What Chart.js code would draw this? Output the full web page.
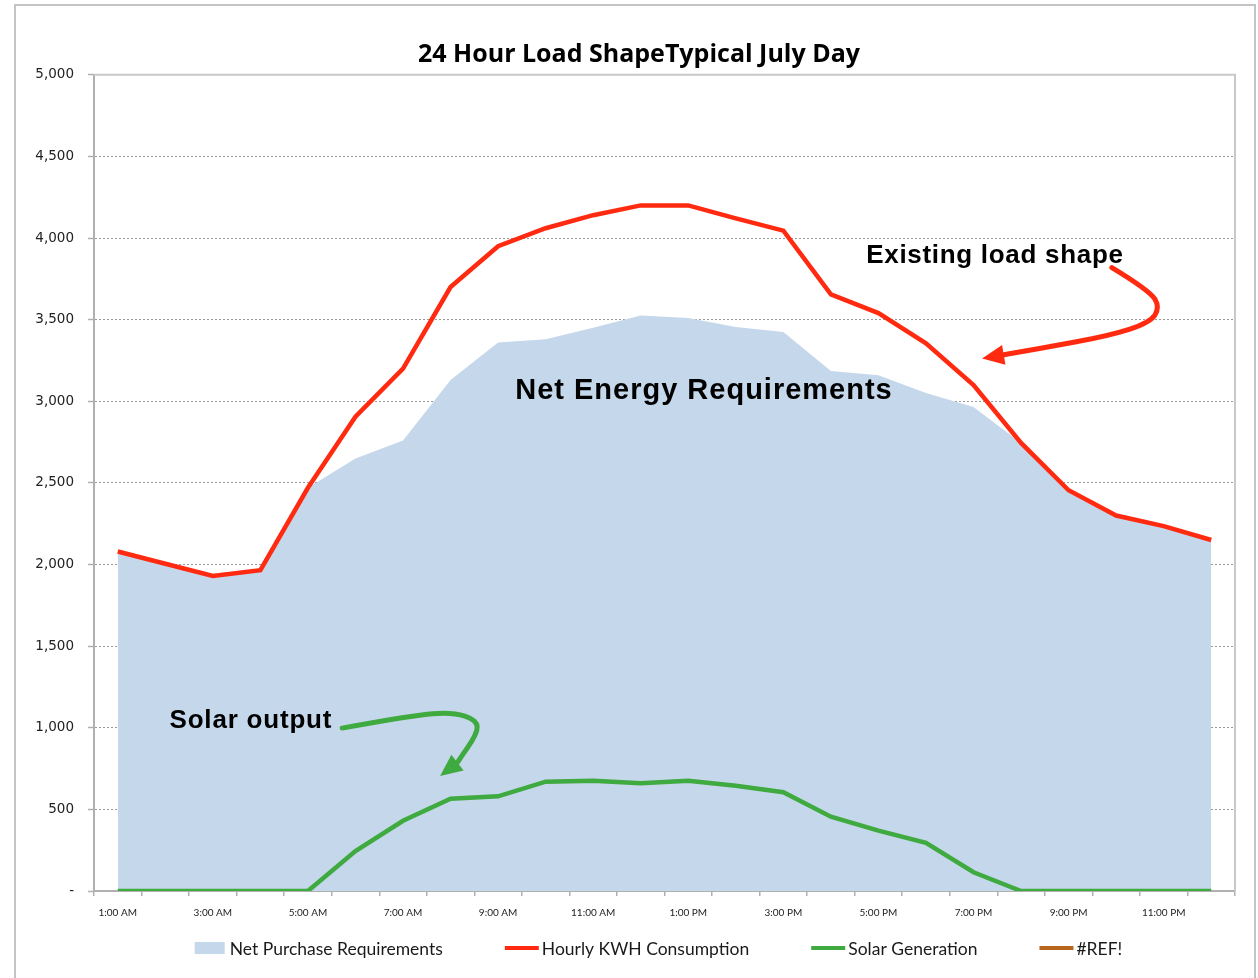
<!DOCTYPE html>
<html>
<head>
<meta charset="utf-8">
<title>24 Hour Load Shape</title>
<script src="https://cdn.jsdelivr.net/npm/chart.js@4.4.0/dist/chart.umd.min.js"></script>
<style>
  html, body { margin: 0; padding: 0; background: #fff; }
</style>
</head>
<body>
<canvas id="chart" width="1258" height="978"></canvas>
<script>
/* ===== Data ===== */
const hours = [
  '1:00 AM', '2:00 AM', '3:00 AM', '4:00 AM', '5:00 AM', '6:00 AM',
  '7:00 AM', '8:00 AM', '9:00 AM', '10:00 AM', '11:00 AM', '12:00 PM',
  '1:00 PM', '2:00 PM', '3:00 PM', '4:00 PM', '5:00 PM', '6:00 PM',
  '7:00 PM', '8:00 PM', '9:00 PM', '10:00 PM', '11:00 PM', '12:00 AM'
];
const netPurchase = [2080, 2005, 1930, 1965, 2470, 2650, 2760, 3130, 3360, 3380, 3450, 3525,
                     3510, 3455, 3425, 3185, 3160, 3050, 2965, 2745, 2455, 2300, 2235, 2150];
const hourlyKwh = [2080, 2005, 1930, 1965, 2470, 2905, 3200, 3700, 3950, 4060, 4140, 4200,
                   4200, 4120, 4045, 3655, 3540, 3355, 3100, 2745, 2455, 2300, 2235, 2150];
const solarGen = [0, 0, 0, 0, 0, 245, 430, 565, 580, 670, 675, 660,
                  675, 645, 605, 455, 370, 295, 115, 0, 0, 0, 0, 0];
const refSeries = [];

const seriesNames = ['Net Purchase Requirements', 'Hourly KWH Consumption', 'Solar Generation', '#REF!'];

/* ===== Notes drawn on the plot (x = hour index, y = kWh) ===== */
const notes = [
  { text: 'Net Energy Requirements', x: 12.33, y: 3060, size: 29, spacing: 1 },
  { text: 'Existing load shape', x: 18.45, y: 3890, size: 26, spacing: 0.7 },
  { text: 'Solar output', x: 2.80, y: 1040, size: 26, spacing: 0.8 }
];
const redArrow = [[20.91, 3819], [21.71, 3678], [21.92, 3574], [21.71, 3482], [20.87, 3403], [19.40, 3323], [18.18, 3262]];
const greenArrow = [[4.72, 998], [6.21, 1077], [7.05, 1095], [7.55, 1047], [7.57, 967], [7.13, 783], [6.78, 704]];

const COLORS = {
  area: '#c5d7ea',
  red: '#ff2a10',
  green: '#3faa3f',
  ref: '#b8661e',
  axis: '#b0b0b0',
  grid: '#9a9a9a'
};

/* ===== Plugins ===== */
const frame = {
  id: 'frame',
  // the sheet's title sits a bit right of the canvas centre
  afterLayout(chart) {
    const t = chart.titleBlock;
    if (t) { t.left += 21.5; t.right += 21.5; }
  },
  beforeDraw(chart) {
    const ctx = chart.ctx;
    ctx.save();
    ctx.fillStyle = '#fff';
    ctx.fillRect(0, 0, chart.width, chart.height);
    ctx.strokeStyle = '#c4c4c4';
    ctx.lineWidth = 2;
    ctx.strokeRect(15, 5, chart.width - 18, chart.height + 20);
    ctx.restore();
  },
  beforeDatasetsDraw(chart) {
    const { ctx, chartArea: a } = chart;
    ctx.save();
    ctx.strokeStyle = '#c8c8c8';
    ctx.lineWidth = 2;
    ctx.beginPath();
    ctx.moveTo(a.left, a.top);
    ctx.lineTo(a.right, a.top);
    ctx.lineTo(a.right, a.bottom);
    ctx.stroke();
    ctx.restore();
  }
};

function drawArrow(chart, pts, color) {
  const { ctx, scales: { x, y } } = chart;
  const p = pts.map(([i, v]) => [x.getPixelForValue(i), y.getPixelForValue(v)]);
  ctx.save();
  ctx.strokeStyle = color;
  ctx.fillStyle = color;
  ctx.lineWidth = 5;
  ctx.lineCap = 'round';
  ctx.lineJoin = 'round';
  const n = p.length;
  const tip = p[n - 1];
  const prev = p[n - 2];
  const ang = Math.atan2(tip[1] - prev[1], tip[0] - prev[0]);
  const headLen = 22;
  const base = [tip[0] - Math.cos(ang) * headLen, tip[1] - Math.sin(ang) * headLen];
  ctx.beginPath();
  ctx.moveTo(p[0][0], p[0][1]);
  for (let k = 1; k < n - 2; k++) {
    const mx = (p[k][0] + p[k + 1][0]) / 2;
    const my = (p[k][1] + p[k + 1][1]) / 2;
    ctx.quadraticCurveTo(p[k][0], p[k][1], mx, my);
  }
  ctx.quadraticCurveTo(p[n - 2][0], p[n - 2][1], base[0], base[1]);
  ctx.stroke();
  ctx.beginPath();
  ctx.moveTo(tip[0], tip[1]);
  ctx.lineTo(base[0] + Math.sin(ang) * 10, base[1] - Math.cos(ang) * 10);
  ctx.lineTo(base[0] - Math.sin(ang) * 10, base[1] + Math.cos(ang) * 10);
  ctx.closePath();
  ctx.fill();
  ctx.restore();
}

const notesPlugin = {
  id: 'notes',
  afterDatasetsDraw(chart) {
    const { ctx, scales: { x, y } } = chart;
    ctx.save();
    ctx.fillStyle = '#000';
    ctx.textAlign = 'center';
    ctx.textBaseline = 'middle';
    notes.forEach(n => {
      ctx.font = 'bold ' + n.size + 'px "Liberation Sans", Arial, sans-serif';
      ctx.letterSpacing = n.spacing + 'px';
      ctx.fillText(n.text, x.getPixelForValue(n.x), y.getPixelForValue(n.y));
    });
    ctx.restore();
    drawArrow(chart, redArrow, COLORS.red);
    drawArrow(chart, greenArrow, COLORS.green);
  }
};

const bottomLegend = {
  id: 'bottomLegend',
  afterDraw(chart) {
    const { ctx, chartArea: a } = chart;
    const boxW = 34, gapText = 3, gapItem = 62;
    ctx.save();
    ctx.font = '17.5px Lato, sans-serif';
    ctx.textBaseline = 'middle';
    const ds = chart.data.datasets;
    const widths = ds.map(d => boxW + gapText + ctx.measureText(d.label).width);
    const total = widths.reduce((s, w) => s + w, 0) + gapItem * (ds.length - 1);
    let cx = (a.left + a.right) / 2 - 7 - total / 2;
    const cy = a.bottom + 57;
    ds.forEach((d, i) => {
      if (d.fill) {
        ctx.fillStyle = d.backgroundColor;
        ctx.fillRect(cx + 2, cy - 6, boxW - 4, 12);
      } else {
        ctx.strokeStyle = d.borderColor;
        ctx.lineWidth = 4;
        ctx.beginPath();
        ctx.moveTo(cx, cy);
        ctx.lineTo(cx + boxW, cy);
        ctx.stroke();
      }
      ctx.fillStyle = '#1a1a1a';
      ctx.fillText(d.label, cx + boxW + gapText, cy + 1);
      cx += widths[i] + gapItem;
    });
    ctx.restore();
  }
};

/* ===== Chart ===== */
const ctx = document.getElementById('chart');

new Chart(ctx, {
  type: 'line',
  data: {
    labels: hours,
    datasets: [
      {
        label: seriesNames[0],
        data: netPurchase,
        fill: 'origin',
        backgroundColor: COLORS.area,
        borderWidth: 0,
        pointRadius: 0,
        order: 4
      },
      {
        label: seriesNames[1],
        data: hourlyKwh,
        borderColor: COLORS.red,
        borderWidth: 4.5,
        pointRadius: 0,
        fill: false,
        order: 2
      },
      {
        label: seriesNames[2],
        data: solarGen,
        borderColor: COLORS.green,
        borderWidth: 4.5,
        pointRadius: 0,
        fill: false,
        order: 1
      },
      {
        label: seriesNames[3],
        data: refSeries,
        borderColor: COLORS.ref,
        borderWidth: 4,
        pointRadius: 0,
        fill: false,
        order: 3
      }
    ]
  },
  options: {
    responsive: false,
    animation: false,
    layout: { padding: { left: 0, right: 23, top: 0, bottom: 0 } },
    plugins: {
      legend: { display: false },
      tooltip: { enabled: false },
      title: {
        display: true,
        text: '24 Hour Load ShapeTypical July Day',
        color: '#000',
        font: { family: '"Open Sans", sans-serif', size: 25, weight: 'bold' },
        padding: { top: 39.4, bottom: 5.4 }
      }
    },
    scales: {
      x: {
        type: 'category',
        offset: true,
        afterFit: s => { s.height = 87; },
        grid: {
          offset: true,
          drawOnChartArea: false,
          tickLength: 5,
          color: COLORS.axis,
          lineWidth: 1.5
        },
        border: { color: COLORS.axis, width: 2 },
        ticks: {
          autoSkip: false,
          maxRotation: 0,
          padding: 11,
          color: '#222',
          font: { family: 'Lato, sans-serif', size: 10 },
          callback: (v, i) => (i % 2 === 0 ? hours[i] : '')
        }
      },
      y: {
        min: 0,
        max: 5000,
        afterFit: s => { s.width = 94; },
        grid: {
          color: COLORS.grid,
          lineWidth: 1,
          tickLength: 6,
          tickColor: COLORS.axis,
          tickWidth: 1.5,
          tickBorderDash: []
        },
        border: { color: COLORS.axis, width: 2, dash: [2, 2] },
        ticks: {
          stepSize: 500,
          padding: 14,
          color: '#222',
          font: { family: '"DejaVu Sans", sans-serif', size: 13.5 },
          callback: v => (v === 0 ? '-' : v.toLocaleString('en-US'))
        }
      }
    }
  },
  plugins: [frame, notesPlugin, bottomLegend]
});
</script>
</body>
</html>
